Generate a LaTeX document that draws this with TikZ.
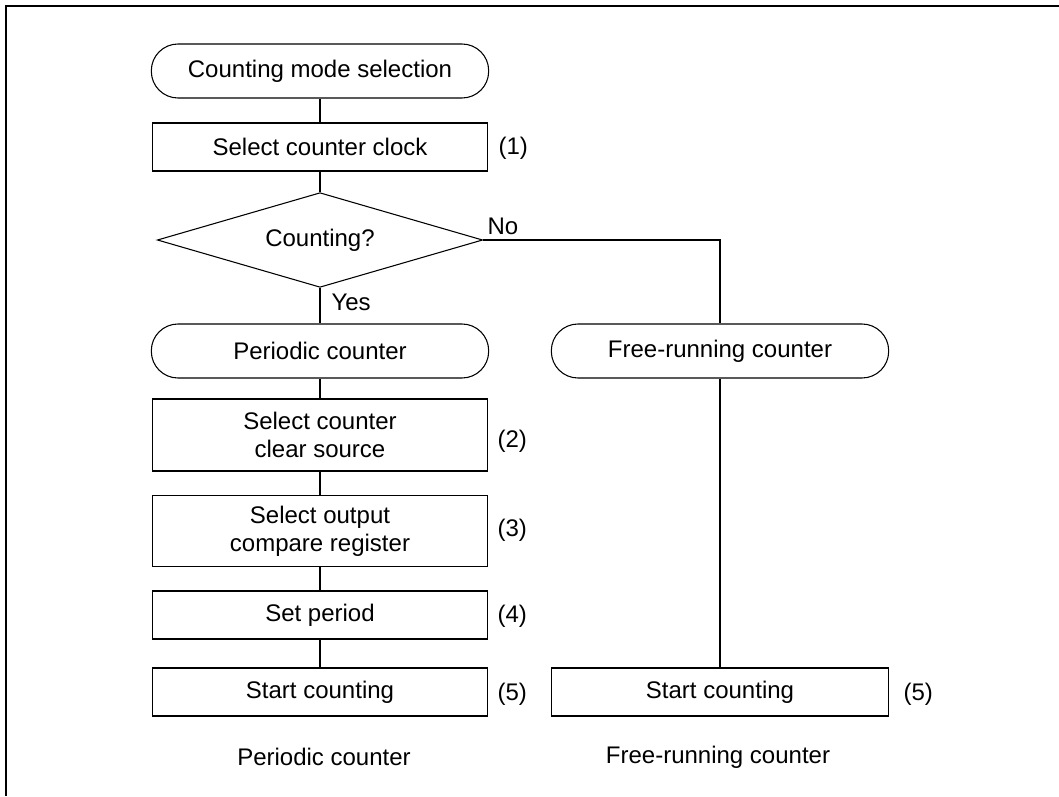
\documentclass[tikz,border=0pt]{standalone}
\usepackage{fontspec}
\setmainfont{Liberation Sans}
\usetikzlibrary{shapes.geometric}

\tikzset{
  term/.style={draw, rounded corners=20pt, minimum width=253pt, minimum height=40.5pt, inner sep=0pt},
  proc/.style={draw, minimum width=251pt, minimum height=36pt, inner sep=0pt, align=center},
  decide/.style={draw, diamond, aspect=3.4, minimum width=244pt, minimum height=71pt, inner sep=0pt},
  stepno/.style={anchor=west, inner sep=0pt},
}

\begin{document}
\begin{tikzpicture}[x=0.75pt, y=-0.75pt, line width=0.8pt, font=\fontsize{18}{21}\selectfont]

\useasboundingbox (0,0) rectangle (1059,796);

% Frame
\draw[line width=1.2pt] (6,796) -- (6,6) -- (1059,6);

% Left column
\node[term] (start) at (320,71) {Counting mode selection};
\node[proc] (clk) at (320,147) {Select counter clock};
\node[decide] (cnt) at (320,240) {Counting?};
\node[term] (per) at (320,351) {Periodic counter};
\node[proc, minimum height=54pt] (clr) at (320,435) {Select counter\\clear source};
\node[proc, minimum height=53pt] (cmp) at (320,531) {Select output\\compare register};
\node[proc] (prd) at (320,615) {Set period};
\node[proc] (run1) at (320,692) {Start counting};

% Right column
\node[term] (free) at (720,351) {Free-running counter};
\node[proc, minimum width=253pt] (run2) at (720,692) {Start counting};

% Step numbers
\node[stepno] (n1) at (498,148) {(1)};
\node[stepno] (n2) at (497,441) {(2)};
\node[stepno] (n3) at (497,530) {(3)};
\node[stepno] (n4) at (497,616) {(4)};
\node[stepno] (n5a) at (497,694) {(5)};
\node[stepno] (n5b) at (903,694) {(5)};

% Branch labels
\node[stepno] (yes) at (331,302) {Yes};
\node[stepno] (no) at (487,226) {No};

% Connectors
\draw (start) -- (clk) -- (cnt) -- (per);
\draw (per) -- (clr) -- (cmp) -- (prd) -- (run1);
\draw (cnt.east) -| (free);
\draw (free) -- (run2);

% Captions
\node (capper) at (324,757) {Periodic counter};
\node (capfree) at (718,757) {Free-running counter};

\end{tikzpicture}
\end{document}
